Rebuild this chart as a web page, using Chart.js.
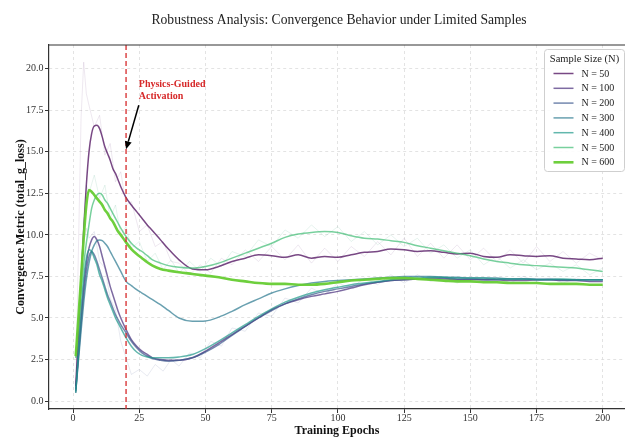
<!DOCTYPE html>
<html>
<head>
<meta charset="utf-8">
<script src="https://cdn.jsdelivr.net/npm/chart.js@4.4.1/dist/chart.umd.min.js"></script>
<style>
  html, body { margin: 0; padding: 0; background: #fff; }
  #wrap { width: 625px; height: 438px; }
</style>
</head>
<body>
<div id="wrap"><canvas id="chart" width="625" height="438"></canvas></div>
<script>
// smoothed curves, sampled along the epochs
const epochs = [1,2,3,4,5,6,7,8,9,10, 11,12,13,14,15,16,17,18,20,22,
  24,26,28,30,33,36,40,45,50,55, 60,65,70,75,80,85,90,95,100,105,
  110,115,120,125,130,135,140,145,150,155, 160,165,170,175,180,185,190,195,200];

const n50 = [0.9,4.0,7.2,10.3,13.0,15.0,16.1,16.55,16.6,16.4,
  15.9,15.3,14.9,14.5,14.0,13.7,13.3,12.9,12.25,11.8,
  11.4,11.0,10.6,10.25,9.7,9.15,8.5,7.95,7.9,8.1,
  8.4,8.6,8.8,8.75,8.65,8.8,8.6,8.7,8.65,8.8,
  8.95,9.0,9.15,9.1,9.0,9.05,8.95,8.85,8.9,8.7,
  8.65,8.8,8.75,8.7,8.75,8.6,8.55,8.5,8.6];
const n100 = [0.7,2.8,5.0,6.9,8.3,9.2,9.7,9.9,9.7,9.3,
  8.7,8.1,7.5,6.9,6.4,5.9,5.4,5.0,4.3,3.7,
  3.3,3.0,2.8,2.6,2.5,2.45,2.45,2.6,3.0,3.5,
  4.0,4.5,5.0,5.5,5.85,6.1,6.3,6.45,6.6,6.8,
  7.0,7.15,7.25,7.3,7.35,7.35,7.35,7.3,7.3,7.3,
  7.3,7.25,7.25,7.3,7.3,7.25,7.25,7.2,7.2];
const n200 = [0.5,2.6,4.6,6.4,7.8,8.7,9.0,8.8,8.4,7.9,
  7.4,6.9,6.4,6.0,5.6,5.2,4.9,4.6,4.1,3.6,
  3.2,2.9,2.7,2.55,2.45,2.4,2.45,2.6,2.95,3.4,
  3.95,4.5,5.0,5.45,5.85,6.15,6.4,6.6,6.75,6.9,
  7.05,7.15,7.25,7.3,7.35,7.4,7.4,7.35,7.35,7.3,
  7.3,7.35,7.35,7.3,7.3,7.3,7.3,7.3,7.3];
const n300 = [0.6,2.4,4.2,5.9,7.3,8.3,9.0,9.4,9.65,9.7,
  9.65,9.5,9.3,9.0,8.7,8.4,8.1,7.8,7.2,6.95,
  6.7,6.5,6.3,6.1,5.8,5.45,5.0,4.8,4.82,5.05,
  5.4,5.8,6.15,6.5,6.75,6.95,7.1,7.2,7.25,7.3,
  7.35,7.4,7.45,7.5,7.5,7.5,7.45,7.45,7.4,7.4,
  7.4,7.35,7.35,7.35,7.35,7.3,7.3,7.3,7.3];
const n400 = [0.5,3.0,5.5,7.4,8.6,9.1,9.0,8.6,8.2,7.6,
  7.2,6.7,6.2,5.8,5.4,5.0,4.7,4.4,3.8,3.3,
  2.95,2.75,2.65,2.6,2.6,2.6,2.65,2.8,3.15,3.6,
  4.1,4.6,5.1,5.55,5.95,6.25,6.5,6.7,6.85,7.0,
  7.1,7.2,7.3,7.4,7.4,7.45,7.45,7.4,7.4,7.4,
  7.35,7.35,7.35,7.3,7.3,7.35,7.3,7.3,7.3];
const n500 = [2.6,4.6,6.5,8.2,9.5,10.6,11.6,12.1,12.4,12.5,
  12.4,12.1,11.9,11.6,11.3,11.0,10.7,10.4,9.9,9.5,
  9.2,9.0,8.75,8.5,8.3,8.15,8.05,8.0,8.1,8.3,
  8.6,8.9,9.2,9.5,9.85,10.05,10.15,10.2,10.15,9.95,
  9.8,9.75,9.65,9.55,9.35,9.2,9.05,8.9,8.75,8.55,
  8.4,8.3,8.2,8.15,8.1,8.05,8.0,7.9,7.8];
const n600 = [2.7,5.0,7.4,9.8,11.8,12.7,12.6,12.4,12.2,12.0,
  11.8,11.5,11.3,11.0,10.8,10.5,10.2,10.0,9.55,9.15,
  8.85,8.6,8.35,8.15,7.95,7.85,7.75,7.65,7.55,7.45,
  7.3,7.2,7.1,7.05,7.05,7.0,7.0,7.05,7.15,7.25,
  7.3,7.35,7.4,7.4,7.35,7.3,7.25,7.2,7.2,7.15,
  7.15,7.1,7.1,7.1,7.05,7.05,7.05,7.0,7.0];

// faint raw traces behind the smoothed curves
const rawEpochs = [1,2,3,4,5,6,8,10,12,14, 16,18,20,22,25,28,31,34,37,40,
  44,48,52,56,60,65,70,75,80,85, 90,95,100,105,110,115,120,125,130,135,
  140,145,150,155,160,165,170,175,180,185, 190,195,200];
const raw50 = [0.8,9,17,20.4,18.5,17.8,16.5,17.2,14.8,15.5,
  13.2,13.8,11.8,12.0,10.2,10.6,9.3,9.6,8.4,8.3,
  7.6,8.2,7.7,8.6,8.2,9.1,8.4,9.3,8.5,9.4,
  8.3,9.2,8.4,9.3,8.7,9.6,8.8,9.8,8.7,9.5,
  8.6,9.4,8.5,9.2,8.4,9.1,8.3,9.3,8.4,9.0,
  8.3,8.9,8.5];
const raw500 = [2.6,5,8,11,13,12.5,13.6,12.2,13.0,11.0,
  11.8,10.0,10.5,9.2,9.6,8.4,8.9,7.9,8.5,7.7,
  8.4,7.8,8.6,8.1,9.0,8.7,9.7,9.3,10.3,9.8,
  10.6,9.9,10.5,9.6,10.2,9.4,10.0,9.3,9.8,8.9,
  9.4,8.6,9.1,8.2,8.7,8.0,8.5,7.9,8.3,7.8,
  8.2,7.6,8.0];
const raw100 = [0.6,4,7,9.5,10.4,9.8,10.2,8.4,8.0,6.2,
  5.5,3.6,2.6,1.6,1.9,1.5,2.2,1.8,2.5,2.1,
  2.9,2.6,3.6,3.3,4.4,4.2,5.3,5.1,6.2,5.9,
  6.8,6.4,7.1,6.8,7.4,7.0,7.6,7.1,7.6,7.2,
  7.5,7.1,7.5,7.2,7.4,7.1,7.5,7.2,7.4,7.1,
  7.4,7.2,7.3];

const seriesLabels = ['N = 50','N = 100','N = 200','N = 300','N = 400','N = 500','N = 600'];
const smoothSeries = [n50, n100, n200, n300, n400, n500, n600];
const seriesColors = ['rgba(68,1,84,0.72)','rgba(71,44,122,0.7)','rgba(57,86,140,0.7)',
  'rgba(42,120,142,0.7)','rgba(31,153,138,0.7)','rgba(63,188,115,0.7)','rgba(102,204,51,0.95)'];
const rawSeries = [raw50, raw500, raw100];
const rawColors = ['rgba(120,80,140,0.13)','rgba(60,160,120,0.13)','rgba(80,90,150,0.13)'];

const xTicks = [0,25,50,75,100,125,150,175,200];
const yTicks = [0,2.5,5,7.5,10,12.5,15,17.5,20];

const activationEpoch = 20;
const noteText = ['Physics-Guided', 'Activation'];
const noteAt = [24.8, 19.05];
const arrowFrom = [24.8, 17.8];
const arrowTo = [20, 15.15];

const SERIF = '"Liberation Serif", "Times New Roman", serif';
Chart.defaults.font.family = SERIF;
Chart.defaults.color = '#333';

const datasets = [];
rawSeries.forEach((vals, i) => datasets.push({
  label: 'raw',
  data: rawEpochs.map((e, j) => ({ x: e, y: vals[j] })),
  borderColor: rawColors[i],
  borderWidth: 1,
  pointRadius: 0,
  tension: 0,
  order: 20
}));
smoothSeries.forEach((vals, i) => datasets.push({
  label: seriesLabels[i],
  data: epochs.map((e, j) => ({ x: e, y: vals[j] })),
  borderColor: seriesColors[i],
  borderWidth: i === 6 ? 2.6 : 1.5,
  pointRadius: 0,
  cubicInterpolationMode: 'monotone',
  order: 7 - i
}));

/* title over the plot area */
const titlePlugin = {
  id: 'titlePlugin',
  afterDraw(chart) {
    const { ctx, chartArea: a } = chart;
    ctx.save();
    ctx.font = '13.6px ' + SERIF;
    ctx.fillStyle = '#222';
    ctx.textAlign = 'center';
    ctx.textBaseline = 'middle';
    ctx.fillText('Robustness Analysis: Convergence Behavior under Limited Samples', (a.left + a.right) / 2 + 2, 20);
    ctx.restore();
  }
};

/* top spine */
const framePlugin = {
  id: 'framePlugin',
  afterDraw(chart) {
    const { ctx, chartArea: a } = chart;
    ctx.save();
    ctx.strokeStyle = '#333';
    ctx.lineWidth = 1.2;
    ctx.beginPath();
    ctx.moveTo(a.left, a.top);
    ctx.lineTo(a.right, a.top);
    ctx.stroke();
    ctx.restore();
  }
};

/* red activation line, note and arrow */
const notePlugin = {
  id: 'notePlugin',
  afterDatasetsDraw(chart) {
    const { ctx, chartArea: a, scales: { x, y } } = chart;
    const px = x.getPixelForValue(activationEpoch);
    ctx.save();
    ctx.strokeStyle = 'rgba(214,39,40,0.85)';
    ctx.lineWidth = 1.5;
    ctx.setLineDash([5, 3]);
    ctx.beginPath();
    ctx.moveTo(px, a.top);
    ctx.lineTo(px, a.bottom);
    ctx.stroke();
    ctx.setLineDash([]);

    ctx.font = 'bold 10px ' + SERIF;
    ctx.fillStyle = '#d62728';
    ctx.textAlign = 'left';
    ctx.textBaseline = 'middle';
    const tx = x.getPixelForValue(noteAt[0]), ty = y.getPixelForValue(noteAt[1]);
    noteText.forEach((t, i) => ctx.fillText(t, tx, ty + i * 12));

    const x1 = x.getPixelForValue(arrowFrom[0]), y1 = y.getPixelForValue(arrowFrom[1]);
    const x2 = x.getPixelForValue(arrowTo[0]), y2 = y.getPixelForValue(arrowTo[1]);
    const ang = Math.atan2(y2 - y1, x2 - x1);
    const hl = 8, hw = 3.5;
    const bx = x2 - hl * Math.cos(ang), by = y2 - hl * Math.sin(ang);
    ctx.strokeStyle = '#000';
    ctx.fillStyle = '#000';
    ctx.lineWidth = 1.5;
    ctx.beginPath();
    ctx.moveTo(x1, y1);
    ctx.lineTo(bx, by);
    ctx.stroke();
    ctx.beginPath();
    ctx.moveTo(x2, y2);
    ctx.lineTo(bx + hw * Math.sin(ang), by - hw * Math.cos(ang));
    ctx.lineTo(bx - hw * Math.sin(ang), by + hw * Math.cos(ang));
    ctx.closePath();
    ctx.fill();
    ctx.restore();
  }
};

/* legend box, upper right */
const legendPlugin = {
  id: 'legendPlugin',
  afterDraw(chart) {
    const ctx = chart.ctx;
    const bx = 544.5, by = 49.5, bw = 80, bh = 122;
    ctx.save();
    ctx.fillStyle = 'rgba(255,255,255,0.9)';
    ctx.strokeStyle = '#cfcfcf';
    ctx.lineWidth = 1;
    ctx.beginPath();
    ctx.roundRect(bx, by, bw, bh, 3);
    ctx.fill();
    ctx.stroke();
    ctx.fillStyle = '#222';
    ctx.font = '10.5px ' + SERIF;
    ctx.textAlign = 'center';
    ctx.textBaseline = 'middle';
    ctx.fillText('Sample Size (N)', bx + 40, by + 10);
    ctx.textAlign = 'left';
    ctx.font = '10px ' + SERIF;
    seriesLabels.forEach((lab, i) => {
      const ly = by + 24 + i * 14.8;
      ctx.strokeStyle = seriesColors[i];
      ctx.lineWidth = i === 6 ? 2.6 : 1.5;
      ctx.beginPath();
      ctx.moveTo(bx + 9, ly);
      ctx.lineTo(bx + 29, ly);
      ctx.stroke();
      ctx.fillStyle = '#222';
      ctx.fillText(lab, bx + 37, ly + 0.5);
    });
    ctx.restore();
  }
};

const axisGrid = {
  color: '#dcdcdc',
  lineWidth: 0.8,
  tickColor: '#333',
  tickLength: 4,
  tickWidth: 1,
  tickBorderDash: []
};
const axisBorder = { color: '#333', width: 1.2, dash: [3, 3] };

new Chart(document.getElementById('chart'), {
  type: 'line',
  data: { datasets },
  options: {
    responsive: false,
    animation: false,
    devicePixelRatio: 1,
    layout: { padding: { top: 45, left: 0, right: 0, bottom: 0 } },
    plugins: { legend: { display: false }, tooltip: { enabled: false }, title: { display: false } },
    scales: {
      x: {
        type: 'linear',
        min: -9.1,
        max: 208.4,
        afterBuildTicks: s => { s.ticks = xTicks.map(v => ({ value: v })); },
        afterFit: s => { s.height = 29; },
        ticks: { font: { size: 10 }, padding: -1, maxRotation: 0, callback: v => String(v) },
        grid: axisGrid,
        border: axisBorder,
        title: { display: true, text: 'Training Epochs', font: { size: 12, weight: 'bold' }, color: '#111', padding: { top: 0, bottom: 0 } }
      },
      y: {
        type: 'linear',
        min: -0.48,
        max: 21.43,
        afterBuildTicks: s => { s.ticks = yTicks.map(v => ({ value: v })); },
        afterFit: s => { s.width = 49; },
        ticks: { font: { size: 10 }, padding: 1.5, callback: v => Number(v).toFixed(1) },
        grid: axisGrid,
        border: axisBorder,
        title: { display: true, text: 'Convergence Metric (total_g_loss)', font: { size: 12, weight: 'bold' }, color: '#111', padding: { top: 14, bottom: 0 } }
      }
    }
  },
  plugins: [titlePlugin, framePlugin, notePlugin, legendPlugin]
});
</script>
</body>
</html>
